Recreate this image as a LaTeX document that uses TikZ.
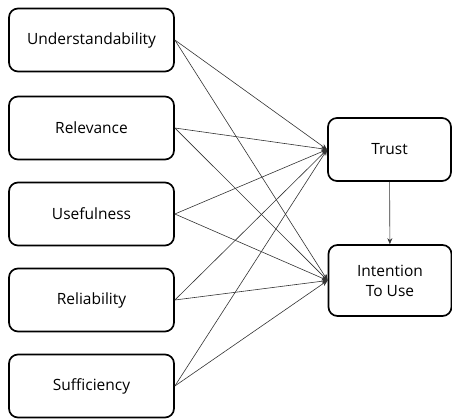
\documentclass[tikz,border=0pt]{standalone}
\usepackage{fontspec}
\setmainfont{Open Sans}
\usetikzlibrary{arrows.meta}

\tikzset{
  factor/.style={draw, line width=1.7pt, rounded corners=9pt, minimum width=165pt, minimum height=63pt, font=\fontsize{15.5}{20}\selectfont, align=center},
  result/.style={factor, minimum width=123pt},
  path/.style={black!80, line width=0.6pt, -{Stealth[length=6pt,width=5pt]}}
}

\begin{document}
\begin{tikzpicture}[x=1pt,y=-1pt]
\useasboundingbox (0,0) rectangle (452,418);

\node[factor] (und) at (91.5,40) {Understandability};
\node[factor] (rel) at (91.5,128) {Relevance};
\node[factor] (use) at (91.5,214) {Usefulness};
\node[factor] (rlb) at (91.5,300) {Reliability};
\node[factor] (suf) at (91.5,386) {Sufficiency};

\node[result] (trust) at (389.5,149.5) {Trust};
\node[result, minimum height=71pt] (intent) at (390,280.5) {Intention\\To Use};

\foreach \f in {und,rel,use,rlb,suf}{
  \draw[path] (\f.east) -- (trust.west);
  \draw[path] (\f.east) -- (intent.west);
}

\draw[path] (trust) -- (intent);
\end{tikzpicture}
\end{document}
